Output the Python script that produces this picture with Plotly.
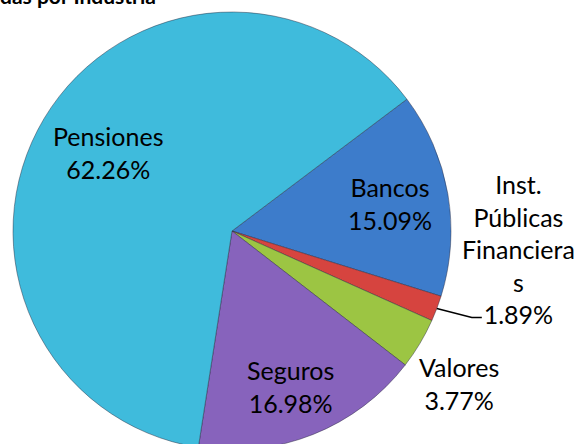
import math
import plotly.graph_objects as go

# ---------------- data ----------------
categories = ["Bancos", "Inst. Públicas Financieras", "Valores", "Seguros", "Pensiones"]
label_lines = ["Bancos", "Inst.<br>Públicas<br>Financiera<br>s", "Valores", "Seguros", "Pensiones"]
shares = [15.09, 1.89, 3.77, 16.98, 62.26]
title_text = "das por Industria"

# ---------------- style ----------------
colors = ["#3D7CCB", "#D6443F", "#9CC543", "#8763BC", "#3FBBDC"]
FONT = "Lato"
W, H = 577, 452
CX, CY, R = 232, 231, 219
ROTATION = 53

def px(x, y):
    return x / W, 1 - y / H

fig = go.Figure(go.Pie(
    labels=categories,
    values=shares,
    sort=False,
    direction="clockwise",
    rotation=ROTATION,
    marker=dict(colors=colors, line=dict(color="rgba(40,40,60,0.45)", width=1)),
    textinfo="none",
    hoverinfo="none",
    domain=dict(x=[(CX - R) / W, (CX + R) / W], y=[(H - (CY + R)) / H, (H - (CY - R)) / H]),
))

# label placement (radial fraction, angular offset, extra px offset)
place = [(0.73, 0, 0, 0), None, (1.25, 3, 0, 0), (0.76, 1, 0, 0), (0.67, 1.6, 0, 0)]
total = sum(shares)
cum = 0
annotations = []
shapes = []
for i, v in enumerate(shares):
    a0 = ROTATION + 360 * cum / total
    cum += v
    a1 = ROTATION + 360 * cum / total
    mid = (a0 + a1) / 2
    text = f"{label_lines[i]}<br>{v:.2f}%"
    if place[i] is None:
        ex = CX + R * math.sin(math.radians(mid))
        ey = CY - R * math.cos(math.radians(mid))
        p1 = (ex + 35, ey + 9)
        p2 = (ex + 45, ey + 9)
        path = "M {} {} L {} {} L {} {}".format(*px(ex, ey), *px(*p1), *px(*p2))
        shapes.append(dict(type="path", path=path, xref="paper", yref="paper",
                           line=dict(color="black", width=1.5)))
        tx, ty = ex + 82, ey - 60
    else:
        f, da, ox, oy = place[i]
        a = math.radians(mid + da)
        tx = CX + f * R * math.sin(a) + ox
        ty = CY - f * R * math.cos(a) + oy
    x, y = px(tx, ty)
    annotations.append(dict(x=x, y=y, xref="paper", yref="paper", text=text,
                            showarrow=False, xanchor="center", yanchor="middle",
                            align="center", font=dict(family=FONT, size=25, color="black")))

tx, ty = px(-2, -4)
annotations.append(dict(x=tx, y=ty, xref="paper", yref="paper", text=f"<b>{title_text}</b>",
                        showarrow=False, xanchor="left", yanchor="middle",
                        font=dict(family=FONT, size=21, color="black")))

fig.update_layout(
    width=W, height=H,
    margin=dict(l=0, r=0, t=0, b=0),
    paper_bgcolor="white", plot_bgcolor="white",
    showlegend=False,
    annotations=annotations,
    shapes=shapes,
)

fig.write_html("out.html", post_script="document.body.style.overflow='hidden';document.documentElement.style.overflow='hidden';")
